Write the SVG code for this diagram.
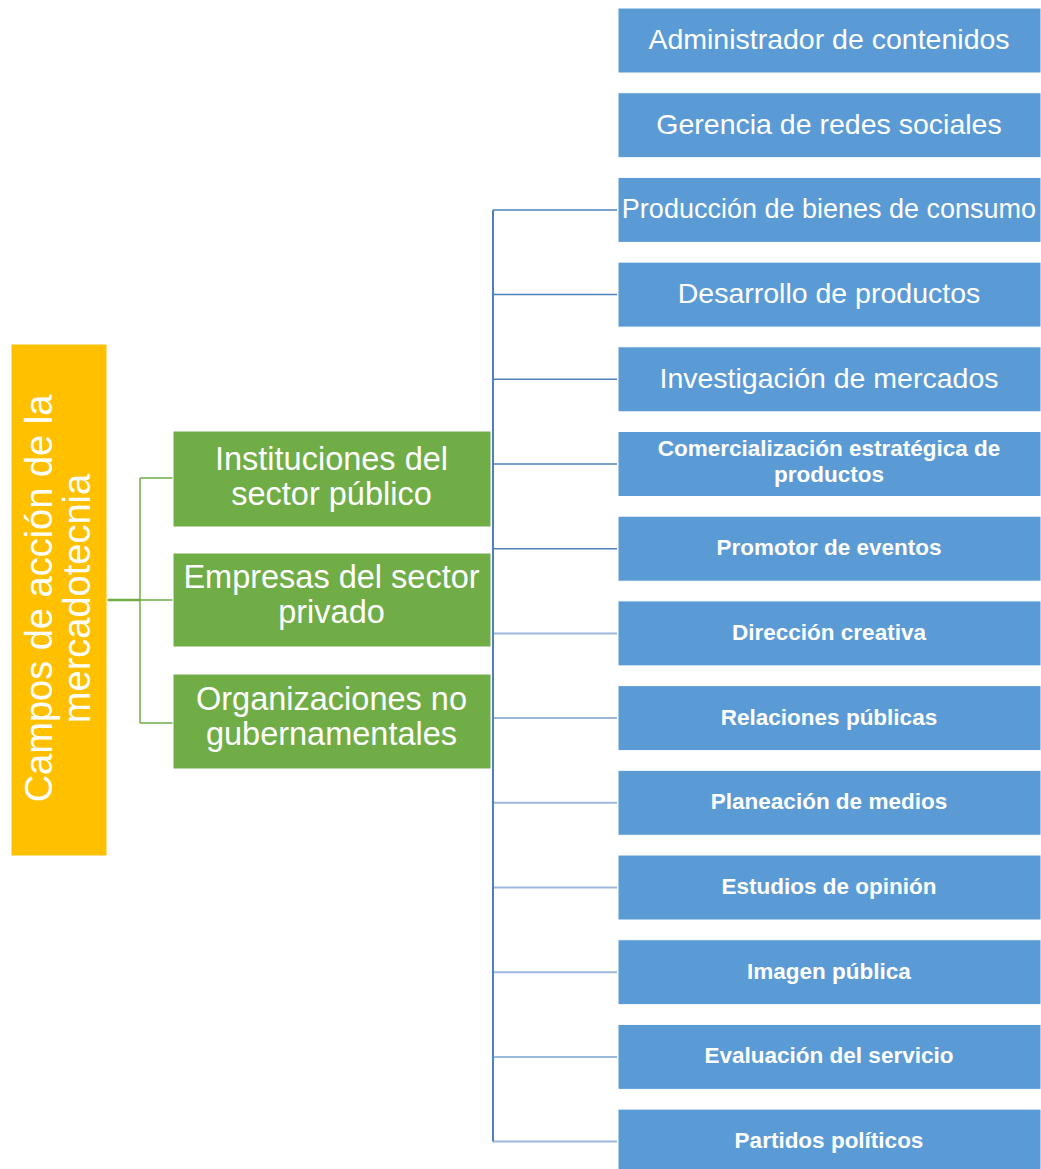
<svg xmlns="http://www.w3.org/2000/svg" width="1041" height="1169" viewBox="0 0 1041 1169">
<style>
.blue{fill:#5b9bd5;stroke:#ffffff;stroke-width:1}
.green{fill:#70ad47;stroke:#ffffff;stroke-width:1}
.orange{fill:#ffc000;stroke:#ffffff;stroke-width:1}
text{fill:#ffffff;font-family:"Liberation Sans",Arial,sans-serif;text-anchor:middle}
.tb{font-size:28.5px}
.tbs{font-size:27px}
.tbb{font-size:22.5px;font-weight:bold}
.tg{font-size:32.5px}
.to{font-size:38px}
.cg{stroke:#70ad47;fill:none}
.cb1{stroke:#4f81bd;stroke-width:1.5;fill:none}
.cb2{stroke:#9bb8db;stroke-width:2;fill:none}
</style>
<rect width="1041" height="1169" fill="#ffffff"/>
<g id="connectors">
<path class="cg" stroke-width="2.5" d="M107 600H140"/>
<path class="cg" stroke-width="1.5" d="M140 478V723M140 478H173M140 600H173M140 723H173"/>
<path class="cb1" d="M493 209.9H617M493 294.6H617M493 379.3H617M493 464H617M493 548.7H617"/>
<path class="cb2" d="M493 633.4H617M493 718.1H617M493 802.8H617M493 887.5H617M493 972.2H617M493 1056.9H617M493 1141.6H617"/>
<path stroke="#4f81bd" stroke-width="2" fill="none" d="M493 209.9V1141.6"/>
</g>
<g id="root">
<rect class="orange" x="11" y="344" width="96" height="512"/>
<text class="to" transform="translate(52,598.5) rotate(-90)">Campos de acción de la</text>
<text class="to" transform="translate(90,598.5) rotate(-90)">mercadotecnia</text>
</g>
<g id="n-publico">
<rect class="green" x="173" y="431" width="318" height="96"/>
<text class="tg" x="331.5" y="470">Instituciones del</text>
<text class="tg" x="331.5" y="505">sector público</text>
</g>
<g id="n-privado">
<rect class="green" x="173" y="553" width="318" height="94"/>
<text class="tg" x="331.5" y="588">Empresas del sector</text>
<text class="tg" x="331.5" y="623">privado</text>
</g>
<g id="n-ong">
<rect class="green" x="173" y="674" width="318" height="95"/>
<text class="tg" x="331.5" y="710">Organizaciones no</text>
<text class="tg" x="331.5" y="745">gubernamentales</text>
</g>
<g id="b0"><rect class="blue" x="618" y="8" width="423" height="65"/><text class="tb" x="829" y="49">Administrador de contenidos</text></g>
<g id="b1"><rect class="blue" x="618" y="92.7" width="423" height="65"/><text class="tb" x="829" y="133.7">Gerencia de redes sociales</text></g>
<g id="b2"><rect class="blue" x="618" y="177.4" width="423" height="65"/><text class="tbs" x="829" y="218.4">Producción de bienes de consumo</text></g>
<g id="b3"><rect class="blue" x="618" y="262.1" width="423" height="65"/><text class="tb" x="829" y="303.1">Desarrollo de productos</text></g>
<g id="b4"><rect class="blue" x="618" y="346.8" width="423" height="65"/><text class="tb" x="829" y="387.8">Investigación de mercados</text></g>
<g id="b5"><rect class="blue" x="618" y="431.5" width="423" height="65"/><text class="tbb" x="829" y="456">Comercialización estratégica de</text><text class="tbb" x="829" y="481.7">productos</text></g>
<g id="b6"><rect class="blue" x="618" y="516.2" width="423" height="65"/><text class="tbb" x="829" y="555.2">Promotor de eventos</text></g>
<g id="b7"><rect class="blue" x="618" y="600.9" width="423" height="65"/><text class="tbb" x="829" y="639.9">Dirección creativa</text></g>
<g id="b8"><rect class="blue" x="618" y="685.6" width="423" height="65"/><text class="tbb" x="829" y="724.6">Relaciones públicas</text></g>
<g id="b9"><rect class="blue" x="618" y="770.3" width="423" height="65"/><text class="tbb" x="829" y="809.3">Planeación de medios</text></g>
<g id="b10"><rect class="blue" x="618" y="855" width="423" height="65"/><text class="tbb" x="829" y="894">Estudios de opinión</text></g>
<g id="b11"><rect class="blue" x="618" y="939.7" width="423" height="65"/><text class="tbb" x="829" y="978.7">Imagen pública</text></g>
<g id="b12"><rect class="blue" x="618" y="1024.4" width="423" height="65"/><text class="tbb" x="829" y="1063.4">Evaluación del servicio</text></g>
<g id="b13"><rect class="blue" x="618" y="1109.1" width="423" height="65"/><text class="tbb" x="829" y="1148.1">Partidos políticos</text></g>
</svg>
